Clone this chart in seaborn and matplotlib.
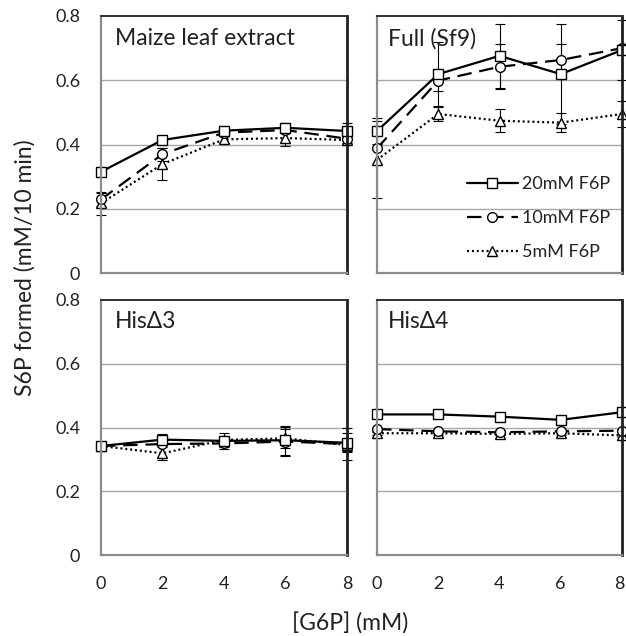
import matplotlib
matplotlib.use("Agg")
import matplotlib.pyplot as plt
import matplotlib.transforms as mtransforms
import seaborn as sns
import pandas as pd
from matplotlib.lines import Line2D

sns.set_theme(style="white")
plt.rcParams["font.family"] = ["Lato", "DejaVu Sans"]

# ---- data ----
g6p = [0, 2, 4, 6, 8]
series_names = ["20mM F6P", "10mM F6P", "5mM F6P"]
panel_titles = ["Maize leaf extract", "Full (Sf9)", "HisΔ3", "HisΔ4"]

maize_20 = [0.315, 0.414, 0.443, 0.452, 0.442]
maize_10 = [0.229, 0.370, 0.437, 0.445, 0.418]
maize_5 = [0.217, 0.339, 0.416, 0.420, 0.414]
maize_20_err = [0.0, 0.0, 0.015, 0.015, 0.025]
maize_10_err = [0.02, 0.02, 0.0, 0.01, 0.0]
maize_5_err = [0.035, 0.05, 0.01, 0.025, 0.01]

full_20 = [0.442, 0.619, 0.676, 0.619, 0.694]
full_10 = [0.388, 0.599, 0.642, 0.663, 0.700]
full_5 = [0.352, 0.495, 0.474, 0.468, 0.495]
full_20_err = [0.04, 0.10, 0.10, 0.155, 0.094]
full_10_err = [0.0, 0.032, 0.07, 0.05, 0.0]
full_5_err = [0.12, 0.022, 0.036, 0.03, 0.04]

h3_20 = [0.342, 0.362, 0.358, 0.360, 0.352]
h3_10 = [0.342, 0.348, 0.350, 0.356, 0.348]
h3_5 = [0.342, 0.319, 0.361, 0.366, 0.345]
h3_20_err = [0.0, 0.018, 0.025, 0.045, 0.03]
h3_10_err = [0.0, 0.0, 0.01, 0.045, 0.05]
h3_5_err = [0.0, 0.02, 0.01, 0.03, 0.02]

h4_20 = [0.441, 0.441, 0.434, 0.424, 0.448]
h4_10 = [0.395, 0.388, 0.385, 0.388, 0.390]
h4_5 = [0.382, 0.382, 0.380, 0.382, 0.375]
h4_20_err = [0.005, 0.005, 0.005, 0.005, 0.005]
h4_10_err = [0.005, 0.005, 0.008, 0.005, 0.005]
h4_5_err = [0.005, 0.005, 0.005, 0.005, 0.005]

yticks = [0, 0.2, 0.4, 0.6, 0.8]
ytick_labels = ["0", "0.2", "0.4", "0.6", "0.8"]
xtick_labels = ["0", "2", "4", "6", "8"]

panels = [
    (maize_20, maize_10, maize_5, maize_20_err, maize_10_err, maize_5_err),
    (full_20, full_10, full_5, full_20_err, full_10_err, full_5_err),
    (h3_20, h3_10, h3_5, h3_20_err, h3_10_err, h3_5_err),
    (h4_20, h4_10, h4_5, h4_20_err, h4_10_err, h4_5_err),
]

rows = []
for pi, p in enumerate(panels):
    for si, name in enumerate(series_names):
        for xi, xv in enumerate(g6p):
            rows.append({"panel": pi, "F6P": name, "G6P": xv,
                         "S6P": p[si][xi], "err": p[si + 3][xi]})
df = pd.DataFrame(rows)

styles = {
    "20mM F6P": dict(marker="s", linestyle="-"),
    "10mM F6P": dict(marker="o", linestyle=(0, (6.5, 3.5))),
    "5mM F6P": dict(marker="^", linestyle=(0, (0.9, 1.3))),
}

W, H = 626, 636
fig = plt.figure(figsize=(W / 100, H / 100), dpi=100)
boxes = [(101, 347, 16, 273), (377, 622, 16, 273),
         (101, 347, 300, 555), (377, 622, 300, 555)]
axes = []
for (l, r, t, b) in boxes:
    axes.append(fig.add_axes([l / W, 1 - b / H, (r - l) / W, (b - t) / H]))

for pi, ax in enumerate(axes):
    sub = df[df.panel == pi]
    for name in reversed(series_names):
        s = sub[sub.F6P == name]
        ax.errorbar(s.G6P, s.S6P, yerr=s.err, fmt="none", ecolor="black",
                    elinewidth=0.8, capsize=3.5, capthick=0.8, zorder=2,
                    clip_on=False)
        sns.lineplot(data=s, x="G6P", y="S6P", ax=ax, color="black",
                     lw=1.6, markersize=7, markerfacecolor="white",
                     markeredgecolor="black", markeredgewidth=1.0,
                     clip_on=False, zorder=3, legend=False,
                     **styles[name])
    ax.set_xlim(0, 8)
    ax.set_ylim(0, 0.8)
    ax.set_yticks(yticks)
    ax.set_xticks(g6p)
    ax.grid(False)
    for yv in yticks[1:-1]:
        ax.axhline(yv, color="#a6a6a6", lw=1.0, zorder=1)
    ax.set_xlabel("")
    ax.set_ylabel("")
    ax.tick_params(axis="y", length=0, pad=15, labelsize=13, colors="#222222")
    ax.tick_params(axis="x", direction="in", length=5, width=1,
                   color="#a0a0a0", pad=15, labelsize=13, labelcolor="#222222")
    if pi % 2 == 0:
        ax.set_yticklabels(ytick_labels)
    else:
        ax.set_yticklabels([])
    if pi >= 2:
        ax.set_xticklabels(xtick_labels)
    else:
        ax.set_xticklabels([])
    for side in ["left", "bottom"]:
        ax.spines[side].set_color("#8c8c8c")
        ax.spines[side].set_linewidth(1.6)
    ax.spines["top"].set_color("#303030")
    ax.spines["top"].set_linewidth(1.4)
    ax.spines["right"].set_color("#202020")
    ax.spines["right"].set_linewidth(2.0)
    for sp in ax.spines.values():
        sp.set_zorder(4)
    ax.text(14 / 246 if pi % 2 == 0 else 11 / 246, 0.955, panel_titles[pi],
            transform=ax.transAxes, ha="left", va="top", fontsize=16.5,
            color="#222222")

# keep the last tick label of the bottom-right panel inside the canvas
last = axes[3].get_xticklabels()[-1]
last.set_transform(last.get_transform() +
                   mtransforms.ScaledTranslation(-0.03, 0, fig.dpi_scale_trans))

handles = []
for name in series_names:
    handles.append(Line2D([], [], color="black", lw=1.6, markersize=7,
                          markerfacecolor="white", markeredgecolor="black",
                          markeredgewidth=1.0, **styles[name]))
axes[1].legend(handles, series_names, loc="lower left",
               bbox_to_anchor=(0.366, 0.05), frameon=False, fontsize=13,
               borderpad=0, borderaxespad=0,
               handlelength=2.85, handletextpad=0.2, labelspacing=1.0,
               numpoints=1, labelcolor="#222222")

fig.text(25 / W, 1 - 268 / H, "S6P formed (mM/10 min)", rotation=90,
         ha="center", va="center", fontsize=16.5, color="#222222")
fig.text(350 / W, 1 - 624 / H, "[G6P] (mM)", ha="center", va="center",
         fontsize=16.5, color="#222222")

fig.savefig("out.png", dpi=100)
